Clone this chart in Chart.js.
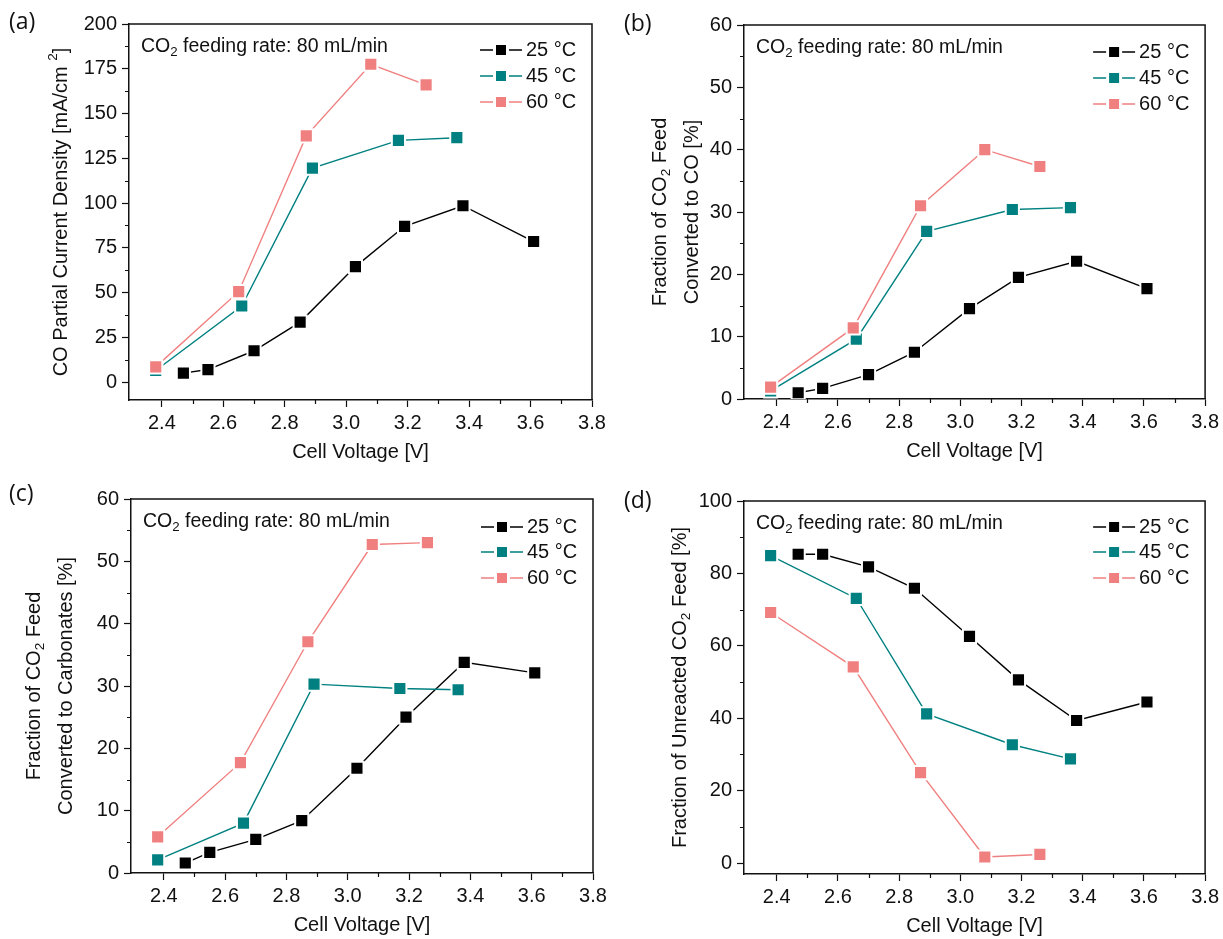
<!DOCTYPE html>
<html>
<head>
<meta charset="utf-8">
<script src="https://cdn.jsdelivr.net/npm/chart.js@4.4.1/dist/chart.umd.min.js"></script>
<style>
  html, body { margin: 0; padding: 0; background: #fff; }
  #wrap { position: relative; width: 1223px; height: 939px; overflow: hidden; }
  canvas { position: absolute; }
</style>
</head>
<body>
<div id="wrap">
  <canvas id="ca"></canvas>
  <canvas id="cb"></canvas>
  <canvas id="cc"></canvas>
  <canvas id="cd"></canvas>
</div>
<script>
// cell voltage of each measurement [V]
const v25 = [2.47, 2.55, 2.70, 2.85, 3.03, 3.19, 3.38, 3.61];
const v45 = [2.38, 2.66, 2.89, 3.17, 3.36];
const v60 = [2.38, 2.65, 2.87, 3.08, 3.26];

// (a) CO partial current density [mA/cm2]
const jco25 = [5, 7, 17.5, 33.5, 64.5, 87, 98.5, 78.5];
const jco45 = [6.5, 42.5, 119.5, 135, 136.5];
const jco60 = [8.5, 50.5, 137.5, 177.5, 166];

// (b) fraction of CO2 feed converted to CO [%]
const fco25 = [1.0, 1.7, 3.9, 7.5, 14.5, 19.5, 22.1, 17.7];
const fco45 = [1.3, 9.6, 26.9, 30.4, 30.7];
const fco60 = [1.9, 11.4, 31.0, 40.0, 37.3];

// (c) fraction of CO2 feed converted to carbonates [%]
const carb25 = [1.6, 3.3, 5.4, 8.4, 16.8, 25.0, 33.8, 32.1];
const carb45 = [2.1, 8.0, 30.3, 29.6, 29.4];
const carb60 = [5.8, 17.7, 37.1, 52.7, 53.0];

// (d) fraction of unreacted CO2 feed [%]
const unr25 = [85.3, 85.3, 81.8, 75.9, 62.6, 50.6, 39.4, 44.5];
const unr45 = [84.9, 73.1, 41.2, 32.7, 28.8];
const unr60 = [69.2, 54.2, 25.0, 1.7, 2.4];

const tempLabels = ['25 \u00B0C', '45 \u00B0C', '60 \u00B0C'];
const tempColors = ['#000000', '#008080', '#f08080'];

const xTicks = [2.4, 2.6, 2.8, 3.0, 3.2, 3.4, 3.6, 3.8];
const xMinor = [2.5, 2.7, 2.9, 3.1, 3.3, 3.5, 3.7];
const jTicks = [0, 25, 50, 75, 100, 125, 150, 175, 200];
const jMinor = [12.5, 37.5, 62.5, 87.5, 112.5, 137.5, 162.5, 187.5];
const pctTicks = [0, 10, 20, 30, 40, 50, 60];
const pctMinor = [5, 15, 25, 35, 45, 55];
const unrTicks = [0, 20, 40, 60, 80, 100];
const unrMinor = [10, 30, 50, 70, 90];

const FONT = '"Liberation Sans", Arial, Helvetica, sans-serif';
const INK = '#111111';

// text with sub/superscript pieces: [text, 0 normal | 1 sub | 2 sup]
function richWidth(ctx, parts, size) {
  let w = 0;
  for (const [t, k] of parts) {
    ctx.font = (k ? size * 0.68 : size) + 'px ' + FONT;
    w += ctx.measureText(t).width;
  }
  return w;
}
function drawRich(ctx, parts, x, y, size, align) {
  const w = richWidth(ctx, parts, size);
  let cx = align === 'center' ? x - w / 2 : x;
  ctx.textBaseline = 'middle';
  ctx.textAlign = 'left';
  ctx.fillStyle = INK;
  for (const [t, k] of parts) {
    const s = k ? size * 0.68 : size;
    ctx.font = s + 'px ' + FONT;
    let dy = 0;
    if (k === 1) dy = size * 0.3;
    if (k === 2) dy = -size * 0.38;
    ctx.fillText(t, cx, y + dy);
    cx += ctx.measureText(t).width;
  }
}

const decor = {
  id: 'decor',
  afterDraw(chart, args, o) {
    const ctx = chart.ctx;
    const a = chart.chartArea;
    const xs = chart.scales.x, ys = chart.scales.y;
    ctx.save();
    // frame top/right
    ctx.strokeStyle = INK;
    ctx.lineWidth = 1.5;
    ctx.beginPath();
    ctx.moveTo(a.left, a.top); ctx.lineTo(a.right, a.top); ctx.lineTo(a.right, a.bottom);
    ctx.stroke();
    // minor ticks
    ctx.lineWidth = 1.2;
    ctx.beginPath();
    for (const v of xMinor) {
      const px = Math.round(xs.getPixelForValue(v)) + 0.5;
      ctx.moveTo(px, a.bottom); ctx.lineTo(px, a.bottom + 4);
    }
    for (const v of o.yMinor) {
      const py = Math.round(ys.getPixelForValue(v)) + 0.5;
      ctx.moveTo(a.left, py); ctx.lineTo(a.left - 4, py);
    }
    ctx.stroke();

    // panel letter
    ctx.font = '23px "Open Sans", "Liberation Sans", sans-serif';
    ctx.fillStyle = INK;
    ctx.textBaseline = 'middle';
    ctx.textAlign = 'left';
    ctx.fillText(o.letter, o.letterX, o.letterY);

    // annotation
    drawRich(ctx, [['CO', 0], ['2', 1], [' feeding rate: 80 mL/min', 0]], a.left + 12, a.top + 23, 19.5, 'left');

    // legend: line - square - line, then label
    chart.data.datasets.forEach((ds, i) => {
      const yy = a.top + o.legY[i];
      const x0 = a.right - 112;
      ctx.strokeStyle = ds.borderColor;
      ctx.lineWidth = 1.5;
      ctx.beginPath();
      ctx.moveTo(x0, yy); ctx.lineTo(x0 + 13, yy);
      ctx.moveTo(x0 + 29, yy); ctx.lineTo(x0 + 42, yy);
      ctx.stroke();
      ctx.fillStyle = ds.pointBackgroundColor;
      ctx.fillRect(x0 + 16, yy - 5, 10, 10);
      drawRich(ctx, [[ds.label, 0]], x0 + 46, yy, 20, 'left');
    });

    // axis titles
    drawRich(ctx, [['Cell Voltage [V]', 0]], (a.left + a.right) / 2, a.bottom + 52, 20, 'center');
    const cy = (a.top + a.bottom) / 2;
    o.yTitle.forEach((line, i) => {
      ctx.save();
      ctx.translate(o.yTitleX[i], cy);
      ctx.rotate(-Math.PI / 2);
      drawRich(ctx, line, 0, 0, 20, 'center');
      ctx.restore();
    });
    ctx.restore();
  }
};

function series(xv, yv) {
  return xv.map((x, i) => ({ x: x, y: yv[i] }));
}

function makePanel(p) {
  const cv = document.getElementById(p.id);
  cv.width = p.w; cv.height = p.h;
  cv.style.left = p.left + 'px';
  cv.style.top = p.top + 'px';
  cv.style.width = p.w + 'px';
  cv.style.height = p.h + 'px';
  const sets = [[v25, p.d[0]], [v45, p.d[1]], [v60, p.d[2]]];
  const datasets = sets.map((s, i) => ({
    label: tempLabels[i],
    data: series(s[0], s[1]),
    borderColor: tempColors[i],
    backgroundColor: tempColors[i],
    pointBackgroundColor: tempColors[i],
    pointBorderColor: '#ffffff',
    borderWidth: 1.4,
    pointStyle: 'rect',
    pointRadius: 9.3,
    pointBorderWidth: 2,
    tension: 0,
    order: 2 - i
  }));
  new Chart(cv, {
    type: 'line',
    data: { datasets: datasets },
    options: {
      responsive: false,
      animation: false,
      devicePixelRatio: 1,
      events: [],
      layout: { padding: { left: 0, top: p.area.t, right: p.w - p.area.r, bottom: 0 } },
      plugins: {
        legend: { display: false },
        tooltip: { enabled: false },
        decor: p.decor
      },
      scales: {
        x: {
          type: 'linear',
          min: 2.293,
          max: 3.8,
          afterBuildTicks: s => { s.ticks = xTicks.map(v => ({ value: v })); },
          afterFit: s => { s.height = p.h - p.area.b; },
          border: { display: true, color: INK, width: 1.5 },
          grid: { drawOnChartArea: false, drawTicks: true, tickLength: 7, tickWidth: 1.2, tickColor: INK },
          ticks: {
            color: INK, padding: 4,
            font: { family: FONT, size: 20 },
            callback: v => v.toFixed(1)
          }
        },
        y: {
          type: 'linear',
          min: p.yMin,
          max: p.yMax,
          afterBuildTicks: s => { s.ticks = p.yTicks.map(v => ({ value: v })); },
          afterFit: s => { s.width = p.area.l; },
          border: { display: true, color: INK, width: 1.5 },
          grid: { drawOnChartArea: false, drawTicks: true, tickLength: 7, tickWidth: 1.2, tickColor: INK },
          ticks: {
            color: INK, padding: 5,
            font: { family: FONT, size: 20 },
            callback: v => String(v)
          }
        }
      }
    },
    plugins: [decor]
  });
}

const co2 = [['Fraction of CO', 0], ['2', 1], [' Feed', 0]];

makePanel({
  id: 'ca', left: 0, top: 0, w: 612, h: 470,
  area: { l: 129, r: 592, t: 24, b: 400 },
  d: [jco25, jco45, jco60], yMin: -10, yMax: 200, yTicks: jTicks,
  decor: {
    letter: '(a)', letterX: 9, letterY: 22, yMinor: jMinor, legY: [26, 52, 78],
    yTitle: [[['CO Partial Current Density [mA/cm ', 0], ['2', 2], [']', 0]]], yTitleX: [61]
  }
});
makePanel({
  id: 'cb', left: 612, top: 0, w: 611, h: 470,
  area: { l: 132, r: 597, t: 25, b: 399 },
  d: [fco25, fco45, fco60], yMin: 0, yMax: 60, yTicks: pctTicks,
  decor: {
    letter: '(b)', letterX: 12, letterY: 24, yMinor: pctMinor, legY: [27, 53, 79],
    yTitle: [co2, [['Converted to CO [%]', 0]]], yTitleX: [48, 80]
  }
});
makePanel({
  id: 'cc', left: 0, top: 470, w: 612, h: 469,
  area: { l: 131, r: 593, t: 29, b: 403 },
  d: [carb25, carb45, carb60], yMin: 0, yMax: 60, yTicks: pctTicks,
  decor: {
    letter: '(c)', letterX: 9, letterY: 24, yMinor: pctMinor, legY: [28, 53, 79],
    yTitle: [co2, [['Converted to Carbonates [%]', 0]]], yTitleX: [34, 66]
  }
});
makePanel({
  id: 'cd', left: 612, top: 470, w: 611, h: 469,
  area: { l: 132, r: 597, t: 31, b: 404 },
  d: [unr25, unr45, unr60], yMin: -3, yMax: 100, yTicks: unrTicks,
  decor: {
    letter: '(d)', letterX: 12, letterY: 31, yMinor: unrMinor, legY: [26, 51, 77],
    yTitle: [[['Fraction of Unreacted CO', 0], ['2', 1], [' Feed [%]', 0]]], yTitleX: [68]
  }
});
</script>
</body>
</html>
